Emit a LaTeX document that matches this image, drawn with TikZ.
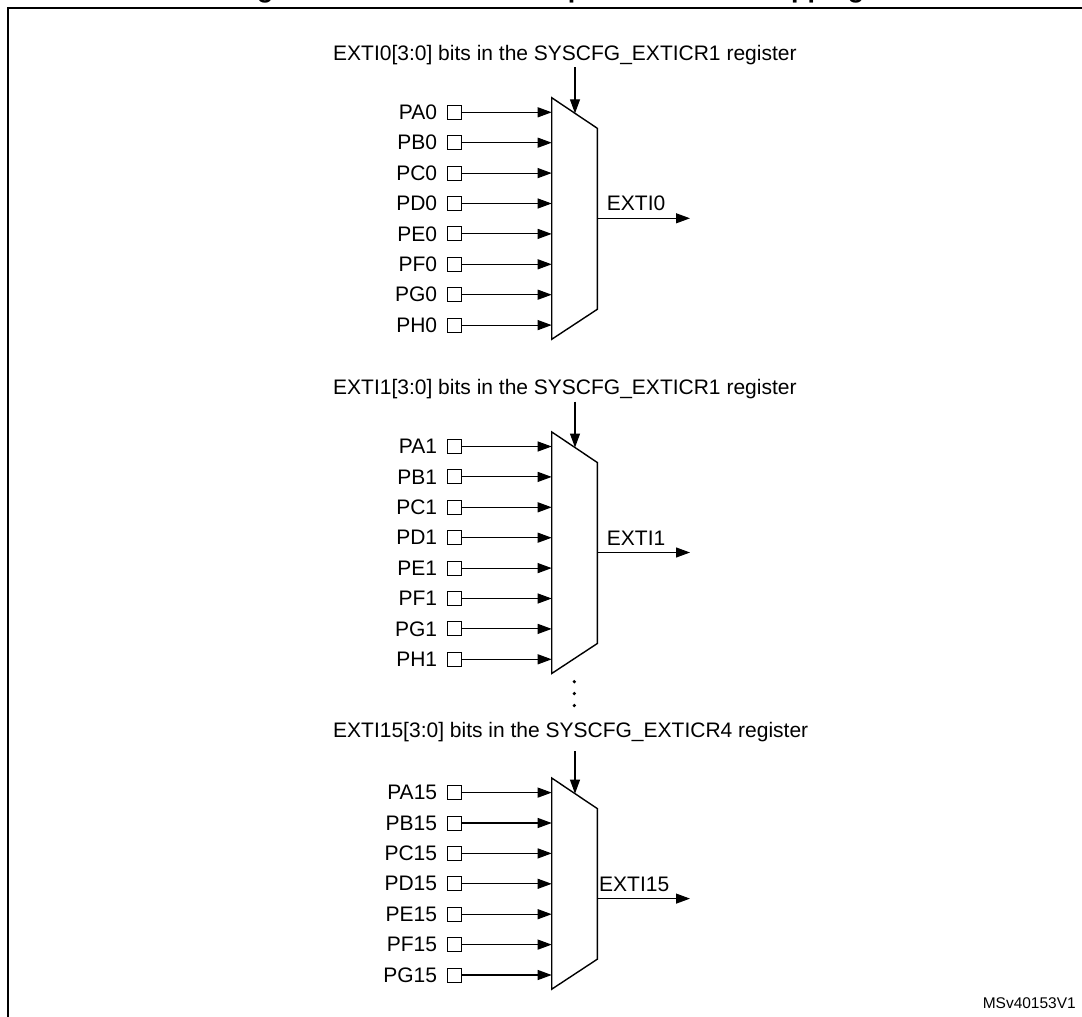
\documentclass[tikz,border=0pt]{standalone}
\usepackage{fontspec}
\setmainfont{Liberation Sans}
\usetikzlibrary{arrows.meta}
\tikzset{
  sig/.style={line width=1.1pt,-{Triangle[length=14pt,width=10pt]}},
  pinbox/.style={draw,line width=0.9pt,minimum size=14pt,inner sep=0pt,anchor=center},
  lbl/.style={inner sep=0pt,font=\fontsize{21}{25}\selectfont},
  muxline/.style={line width=1.4pt,line join=miter},
  frameline/.style={line width=2pt}
}
% #1 id, #2 first input y, #3 letters, #4 suffix, #5 label baseline,
% #6 label text, #7 control arrow start y, #8 output label x, #9 missing inputs
\newcommand\myMuxBlock[9]{%
  \coordinate (tl#1) at (551.7,{#2-14.6});
  \coordinate (tr#1) at (597.3,{#2+16});
  \coordinate (br#1) at (597.3,{#2+197-30.4*#9});
  \coordinate (bl#1) at (551.7,{#2+227-30.4*#9});
  \draw[muxline] (tl#1) -- (tr#1) -- (br#1) -- (bl#1) -- cycle;
  \foreach \p [count=\i from 0] in {#3}{
    \node[lbl,anchor=east] (l#1\p) at (437.3,{#2+30.4*\i}) {P\p#4};
    \node[pinbox] (s#1\p) at (454,{#2+30.4*\i}) {};
    \coordinate (m#1\p) at (551.7,{#2+30.4*\i});
    \draw[sig] (s#1\p) -- (m#1\p);
  }
  \node[lbl,anchor=base west] (lab#1) at (333,#5) {#6};
  \coordinate (cs#1) at (575,#7);
  \coordinate (ct#1) at (575,{#2+1.04});
  \draw[sig] (cs#1) -- (ct#1);
  \coordinate (o#1) at (597.3,{#2+106});
  \coordinate (oe#1) at (690,{#2+106});
  \draw[sig] (o#1) -- (oe#1);
  \node[lbl,anchor=base west] (x#1) at (#8,{#2+106-7.4}) {EXTI#4};
}
\begin{document}
\begin{tikzpicture}[x=1pt,y=-1pt]
  \useasboundingbox (0,0) rectangle (1082,1017);
  \clip (0,0) rectangle (1082,1017);
  \node[anchor=base west,inner sep=0pt,font=\bfseries\fontsize{26.8}{30}\selectfont] (title) at (233,-2.6) {Figure 41. External interrupt/event GPIO mapping};
  \draw[frameline] (7.5,1040) -- (7.5,7.5) -- (1100,7.5);
  \myMuxBlock{a}{112.3}{A,B,C,D,E,F,G,H}{0}{60}{EXTI0[3:0] bits in the SYSCFG\_EXTICR1 register}{67.3}{606.7}{0}
  \myMuxBlock{b}{446.5}{A,B,C,D,E,F,G,H}{1}{394.2}{EXTI1[3:0] bits in the SYSCFG\_EXTICR1 register}{401.5}{606.7}{0}
  \myMuxBlock{c}{792.6}{A,B,C,D,E,F,G}{15}{737}{EXTI15[3:0] bits in the SYSCFG\_EXTICR4 register}{751}{599}{1}
  \fill (574.3,681.7) circle (1.8);
  \fill (574.3,693.5) circle (1.8);
  \fill (574.3,705.5) circle (1.8);
  \node[inner sep=0pt,anchor=base east,font=\fontsize{15.5}{18}\selectfont] (ref) at (1076,1008.5) {MSv40153V1};
\end{tikzpicture}
\end{document}
